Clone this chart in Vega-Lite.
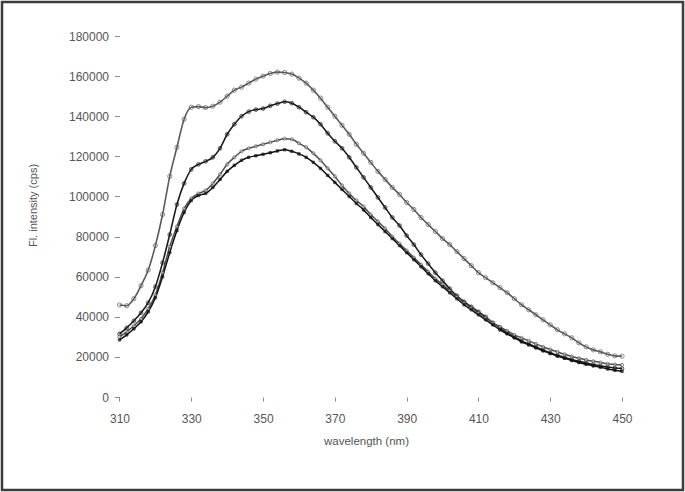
{
"$schema":"https://vega.github.io/schema/vega-lite/v6.json",
"width":681,"height":488,"autosize":"none","padding":2,
"background":"white",
"config":{"view":{"stroke":"#3c3c3c","strokeWidth":2.5,"fill":"white"},"font":"Liberation Sans"},
"data":{"values":[
{"nm":310,"s":"A","v":45900},{"nm":312,"s":"A","v":45500},{"nm":314,"s":"A","v":49000},{"nm":316,"s":"A","v":55500},{"nm":318,"s":"A","v":63300},{"nm":320,"s":"A","v":75500},{"nm":322,"s":"A","v":91000},{"nm":324,"s":"A","v":110000},{"nm":326,"s":"A","v":124500},{"nm":328,"s":"A","v":138500},{"nm":330,"s":"A","v":144500},
{"nm":332,"s":"A","v":144800},{"nm":334,"s":"A","v":144300},{"nm":336,"s":"A","v":145000},{"nm":338,"s":"A","v":147000},{"nm":340,"s":"A","v":150000},{"nm":342,"s":"A","v":153000},{"nm":344,"s":"A","v":154500},{"nm":346,"s":"A","v":156500},{"nm":348,"s":"A","v":158500},{"nm":350,"s":"A","v":160000},
{"nm":352,"s":"A","v":161300},{"nm":354,"s":"A","v":162000},{"nm":356,"s":"A","v":161800},{"nm":358,"s":"A","v":161000},{"nm":360,"s":"A","v":159000},{"nm":362,"s":"A","v":156500},{"nm":364,"s":"A","v":153000},{"nm":366,"s":"A","v":149000},{"nm":368,"s":"A","v":144500},{"nm":370,"s":"A","v":140000},
{"nm":372,"s":"A","v":135500},{"nm":374,"s":"A","v":131000},{"nm":376,"s":"A","v":126000},{"nm":378,"s":"A","v":121500},{"nm":380,"s":"A","v":117000},{"nm":382,"s":"A","v":112500},{"nm":384,"s":"A","v":108500},{"nm":386,"s":"A","v":104500},{"nm":388,"s":"A","v":101000},{"nm":390,"s":"A","v":97000},
{"nm":392,"s":"A","v":93500},{"nm":394,"s":"A","v":89500},{"nm":396,"s":"A","v":86000},{"nm":398,"s":"A","v":82500},{"nm":400,"s":"A","v":79000},{"nm":402,"s":"A","v":76000},{"nm":404,"s":"A","v":72500},{"nm":406,"s":"A","v":69000},{"nm":408,"s":"A","v":65500},{"nm":410,"s":"A","v":62000},
{"nm":412,"s":"A","v":59500},{"nm":414,"s":"A","v":57000},{"nm":416,"s":"A","v":54500},{"nm":418,"s":"A","v":52000},{"nm":420,"s":"A","v":49000},{"nm":422,"s":"A","v":46000},{"nm":424,"s":"A","v":43500},{"nm":426,"s":"A","v":41000},{"nm":428,"s":"A","v":38500},{"nm":430,"s":"A","v":36000},
{"nm":432,"s":"A","v":33500},{"nm":434,"s":"A","v":31500},{"nm":436,"s":"A","v":29500},{"nm":438,"s":"A","v":27000},{"nm":440,"s":"A","v":25000},{"nm":442,"s":"A","v":23500},{"nm":444,"s":"A","v":22500},{"nm":446,"s":"A","v":21300},{"nm":448,"s":"A","v":20500},{"nm":450,"s":"A","v":20300},
{"nm":310,"s":"B","v":31500},{"nm":312,"s":"B","v":34500},{"nm":314,"s":"B","v":38000},{"nm":316,"s":"B","v":42000},{"nm":318,"s":"B","v":47000},{"nm":320,"s":"B","v":55000},{"nm":322,"s":"B","v":67000},{"nm":324,"s":"B","v":81000},{"nm":326,"s":"B","v":96000},{"nm":328,"s":"B","v":106500},{"nm":330,"s":"B","v":113500},
{"nm":332,"s":"B","v":116000},{"nm":334,"s":"B","v":117500},{"nm":336,"s":"B","v":119500},{"nm":338,"s":"B","v":124000},{"nm":340,"s":"B","v":131000},{"nm":342,"s":"B","v":136000},{"nm":344,"s":"B","v":140000},{"nm":346,"s":"B","v":142300},{"nm":348,"s":"B","v":143300},{"nm":350,"s":"B","v":143800},
{"nm":352,"s":"B","v":145200},{"nm":354,"s":"B","v":146300},{"nm":356,"s":"B","v":147200},{"nm":358,"s":"B","v":146500},{"nm":360,"s":"B","v":144500},{"nm":362,"s":"B","v":142000},{"nm":364,"s":"B","v":139500},{"nm":366,"s":"B","v":136000},{"nm":368,"s":"B","v":131500},{"nm":370,"s":"B","v":127500},
{"nm":372,"s":"B","v":124000},{"nm":374,"s":"B","v":119500},{"nm":376,"s":"B","v":114500},{"nm":378,"s":"B","v":109500},{"nm":380,"s":"B","v":104500},{"nm":382,"s":"B","v":99500},{"nm":384,"s":"B","v":94500},{"nm":386,"s":"B","v":89500},{"nm":388,"s":"B","v":85500},{"nm":390,"s":"B","v":80500},
{"nm":392,"s":"B","v":76000},{"nm":394,"s":"B","v":71000},{"nm":396,"s":"B","v":66500},{"nm":398,"s":"B","v":62000},{"nm":400,"s":"B","v":58000},{"nm":402,"s":"B","v":54000},{"nm":404,"s":"B","v":50500},{"nm":406,"s":"B","v":47500},{"nm":408,"s":"B","v":45000},{"nm":410,"s":"B","v":42500},
{"nm":412,"s":"B","v":40000},{"nm":414,"s":"B","v":37000},{"nm":416,"s":"B","v":34500},{"nm":418,"s":"B","v":32000},{"nm":420,"s":"B","v":30000},{"nm":422,"s":"B","v":28000},{"nm":424,"s":"B","v":26500},{"nm":426,"s":"B","v":25000},{"nm":428,"s":"B","v":23500},{"nm":430,"s":"B","v":22000},
{"nm":432,"s":"B","v":20800},{"nm":434,"s":"B","v":19700},{"nm":436,"s":"B","v":18700},{"nm":438,"s":"B","v":17800},{"nm":440,"s":"B","v":17000},{"nm":442,"s":"B","v":16200},{"nm":444,"s":"B","v":15500},{"nm":446,"s":"B","v":15000},{"nm":448,"s":"B","v":14500},{"nm":450,"s":"B","v":14200},
{"nm":310,"s":"C","v":30000},{"nm":312,"s":"C","v":32500},{"nm":314,"s":"C","v":35500},{"nm":316,"s":"C","v":39000},{"nm":318,"s":"C","v":44000},{"nm":320,"s":"C","v":51000},{"nm":322,"s":"C","v":62000},{"nm":324,"s":"C","v":75000},{"nm":326,"s":"C","v":85000},{"nm":328,"s":"C","v":94000},{"nm":330,"s":"C","v":99000},
{"nm":332,"s":"C","v":101500},{"nm":334,"s":"C","v":103000},{"nm":336,"s":"C","v":106500},{"nm":338,"s":"C","v":111000},{"nm":340,"s":"C","v":116000},{"nm":342,"s":"C","v":119500},{"nm":344,"s":"C","v":122500},{"nm":346,"s":"C","v":124000},{"nm":348,"s":"C","v":125000},{"nm":350,"s":"C","v":126000},
{"nm":352,"s":"C","v":127000},{"nm":354,"s":"C","v":128000},{"nm":356,"s":"C","v":128800},{"nm":358,"s":"C","v":128500},{"nm":360,"s":"C","v":126500},{"nm":362,"s":"C","v":124500},{"nm":364,"s":"C","v":121500},{"nm":366,"s":"C","v":118000},{"nm":368,"s":"C","v":114000},{"nm":370,"s":"C","v":110000},
{"nm":372,"s":"C","v":105500},{"nm":374,"s":"C","v":101500},{"nm":376,"s":"C","v":98000},{"nm":378,"s":"C","v":95000},{"nm":380,"s":"C","v":91000},{"nm":382,"s":"C","v":87500},{"nm":384,"s":"C","v":84000},{"nm":386,"s":"C","v":80000},{"nm":388,"s":"C","v":76500},{"nm":390,"s":"C","v":73000},
{"nm":392,"s":"C","v":69500},{"nm":394,"s":"C","v":66000},{"nm":396,"s":"C","v":62500},{"nm":398,"s":"C","v":59000},{"nm":400,"s":"C","v":56000},{"nm":402,"s":"C","v":53000},{"nm":404,"s":"C","v":50000},{"nm":406,"s":"C","v":47000},{"nm":408,"s":"C","v":44500},{"nm":410,"s":"C","v":42000},
{"nm":412,"s":"C","v":39500},{"nm":414,"s":"C","v":37000},{"nm":416,"s":"C","v":35000},{"nm":418,"s":"C","v":33000},{"nm":420,"s":"C","v":31000},{"nm":422,"s":"C","v":29500},{"nm":424,"s":"C","v":28000},{"nm":426,"s":"C","v":26500},{"nm":428,"s":"C","v":25000},{"nm":430,"s":"C","v":23700},
{"nm":432,"s":"C","v":22500},{"nm":434,"s":"C","v":21300},{"nm":436,"s":"C","v":20200},{"nm":438,"s":"C","v":19300},{"nm":440,"s":"C","v":18500},{"nm":442,"s":"C","v":17800},{"nm":444,"s":"C","v":17200},{"nm":446,"s":"C","v":16600},{"nm":448,"s":"C","v":16200},{"nm":450,"s":"C","v":16000},
{"nm":310,"s":"D","v":28500},{"nm":312,"s":"D","v":31000},{"nm":314,"s":"D","v":34000},{"nm":316,"s":"D","v":37500},{"nm":318,"s":"D","v":42500},{"nm":320,"s":"D","v":49500},{"nm":322,"s":"D","v":60000},{"nm":324,"s":"D","v":72000},{"nm":326,"s":"D","v":83000},{"nm":328,"s":"D","v":92000},{"nm":330,"s":"D","v":98000},
{"nm":332,"s":"D","v":100500},{"nm":334,"s":"D","v":101500},{"nm":336,"s":"D","v":104500},{"nm":338,"s":"D","v":108500},{"nm":340,"s":"D","v":112500},{"nm":342,"s":"D","v":115500},{"nm":344,"s":"D","v":118000},{"nm":346,"s":"D","v":119500},{"nm":348,"s":"D","v":120300},{"nm":350,"s":"D","v":121000},
{"nm":352,"s":"D","v":121800},{"nm":354,"s":"D","v":122700},{"nm":356,"s":"D","v":123300},{"nm":358,"s":"D","v":122500},{"nm":360,"s":"D","v":121200},{"nm":362,"s":"D","v":119500},{"nm":364,"s":"D","v":117000},{"nm":366,"s":"D","v":114000},{"nm":368,"s":"D","v":110500},{"nm":370,"s":"D","v":107000},
{"nm":372,"s":"D","v":103500},{"nm":374,"s":"D","v":100000},{"nm":376,"s":"D","v":96500},{"nm":378,"s":"D","v":93300},{"nm":380,"s":"D","v":89500},{"nm":382,"s":"D","v":86000},{"nm":384,"s":"D","v":82500},{"nm":386,"s":"D","v":79000},{"nm":388,"s":"D","v":75500},{"nm":390,"s":"D","v":72000},
{"nm":392,"s":"D","v":68500},{"nm":394,"s":"D","v":65000},{"nm":396,"s":"D","v":61500},{"nm":398,"s":"D","v":58000},{"nm":400,"s":"D","v":55000},{"nm":402,"s":"D","v":52000},{"nm":404,"s":"D","v":49000},{"nm":406,"s":"D","v":46000},{"nm":408,"s":"D","v":43500},{"nm":410,"s":"D","v":41000},
{"nm":412,"s":"D","v":38500},{"nm":414,"s":"D","v":36000},{"nm":416,"s":"D","v":33500},{"nm":418,"s":"D","v":31500},{"nm":420,"s":"D","v":29500},{"nm":422,"s":"D","v":27500},{"nm":424,"s":"D","v":26000},{"nm":426,"s":"D","v":24500},{"nm":428,"s":"D","v":23000},{"nm":430,"s":"D","v":21700},
{"nm":432,"s":"D","v":20400},{"nm":434,"s":"D","v":19300},{"nm":436,"s":"D","v":18200},{"nm":438,"s":"D","v":17200},{"nm":440,"s":"D","v":16300},{"nm":442,"s":"D","v":15500},{"nm":444,"s":"D","v":14800},{"nm":446,"s":"D","v":14000},{"nm":448,"s":"D","v":13300},{"nm":450,"s":"D","v":12800}
]},
"encoding":{
 "x":{"field":"nm","type":"quantitative","scale":{"domain":[277.264,466.995],"nice":false,"zero":false},
  "axis":{"values":[310,330,350,370,390,410,430,450],"offset":-93,"domain":false,"grid":false,"tickSize":4,"tickColor":"#8a8a8a","labelColor":"#555555","labelFontSize":12,"labelPadding":12,"labelFlush":false,"title":"wavelength (nm)","titleFontSize":11.5,"titleFontWeight":"normal","titleColor":"#555555","titleX":364,"titleY":44,"titleBaseline":"middle","titleAlign":"center"}},
 "y":{"field":"v","type":"quantitative","scale":{"domain":[-46371,196953],"nice":false,"zero":false},
  "axis":{"values":[0,20000,40000,60000,80000,100000,120000,140000,160000,180000],"format":"d","offset":-117.5,"domain":false,"grid":false,"tickSize":5,"tickColor":"#8a8a8a","labelColor":"#555555","labelFontSize":12,"labelPadding":6,"title":"Fl. intensity (cps)","titleFontSize":11,"titleFontWeight":"normal","titleColor":"#555555","titleX":-86.5,"titleY":203,"titleBaseline":"middle","titleAlign":"center","titleAngle":-90}}
},
"layer":[
 {"data":{"values":[{}]},"mark":{"type":"rule","color":"#8a8a8a","strokeWidth":1.2},"encoding":{"x":{"datum":310,"type":"quantitative"},"x2":{"datum":450},"y":{"datum":0,"type":"quantitative"}}},
 {"data":{"values":[{}]},"mark":{"type":"rule","color":"#8a8a8a","strokeWidth":1.2},"encoding":{"x":{"datum":310,"type":"quantitative"},"y":{"datum":0,"type":"quantitative"},"y2":{"datum":180000}}},
 {"mark":{"type":"line","interpolate":"monotone"},"encoding":{
   "detail":{"field":"s","type":"nominal"},
   "stroke":{"field":"s","type":"nominal","scale":{"domain":["A","B","C","D"],"range":["#5a5a5a","#1a1a1a","#505050","#111111"]},"legend":null},
   "strokeWidth":{"field":"s","type":"nominal","scale":{"domain":["A","B","C","D"],"range":[1.6,1.5,1.6,2.2]},"legend":null}}},
 {"mark":{"type":"point","filled":false,"strokeWidth":1},"encoding":{
   "shape":{"field":"s","type":"nominal","scale":{"domain":["A","B","C","D"],"range":["circle","circle","circle","square"]},"legend":null},
   "fill":{"field":"s","type":"nominal","scale":{"domain":["A","B","C","D"],"range":["#ffffff","#1a1a1a","#ffffff","#111111"]},"legend":null},
   "fillOpacity":{"field":"s","type":"nominal","scale":{"domain":["A","B","C","D"],"range":[0,1,0,1]},"legend":null},
   "stroke":{"field":"s","type":"nominal","scale":{"domain":["A","B","C","D"],"range":["#858585","#1a1a1a","#7a7a7a","#111111"]},"legend":null},
   "size":{"field":"s","type":"nominal","scale":{"domain":["A","B","C","D"],"range":[18,6,18,12]},"legend":null}}}
]
}
